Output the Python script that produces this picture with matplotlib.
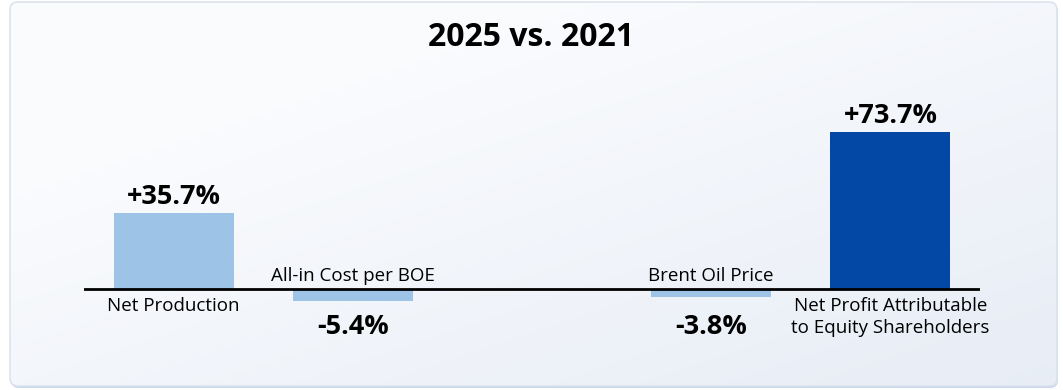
import matplotlib
matplotlib.use("Agg")
import matplotlib.pyplot as plt
import numpy as np
from matplotlib.patches import FancyBboxPatch

plt.rcParams['font.family'] = ['Open Sans', 'DejaVu Sans']

# 2025 vs. 2021 change, in percent
categories = ["Net Production", "All-in Cost per BOE", "Brent Oil Price",
              "Net Profit Attributable\nto Equity Shareholders"]
changes = [35.7, -5.4, -3.8, 73.7]
value_labels = ["+35.7%", "-5.4%", "-3.8%", "+73.7%"]
positions = [0, 1, 3, 4]
bar_colors = ["#9dc3e6", "#9dc3e6", "#9dc3e6", "#0448a6"]

W, H = 1063, 390
fig = plt.figure(figsize=(W / 100, H / 100), dpi=100)
fig.patch.set_facecolor("#ffffff")

# card background with a soft diagonal gradient
bg = fig.add_axes([0, 0, 1, 1], zorder=0)
bg.set_xlim(0, W)
bg.set_ylim(H, 0)
bg.axis("off")
shadow = FancyBboxPatch((11, 4), 1047, 384, boxstyle="round,pad=0,rounding_size=8",
                        facecolor="#c9d6ea", edgecolor="none", zorder=0.1)
bg.add_patch(shadow)
card = FancyBboxPatch((10, 2), 1047, 384, boxstyle="round,pad=0,rounding_size=8",
                      facecolor="none", edgecolor="#dde3ee", linewidth=1.2, zorder=2)
bg.add_patch(card)
gx, gy = np.meshgrid(np.linspace(0, 1, 200), np.linspace(0, 1, 80))
t = np.clip(0.55 * gx + 0.6 * gy - 0.25, 0, 1)
top = np.array([0.984, 0.988, 0.996])
bot = np.array([0.898, 0.922, 0.960])
grad = top[None, None, :] * (1 - t[..., None]) + bot[None, None, :] * t[..., None]
im = bg.imshow(grad, extent=(10, 1057, 386, 2), aspect="auto",
               interpolation="bilinear", zorder=1)
im.set_clip_path(card)

fig.text(0.5, 1 - 37 / H, "2025 vs. 2021", ha="center", va="center",
         fontsize=23, fontweight="bold", color="#000000")

# plotting area: baseline at y=289px, about 2.13 px per percentage point
ax = fig.add_axes([84 / W, 40 / H, (980 - 84) / W, 250 / H], zorder=1)
ax.patch.set_alpha(0)
ppu = 2.13
ax.set_xlim(-0.5, 4.5)
ax.set_ylim(-(350 - 289) / ppu, (289 - 100) / ppu)
ax.axis("off")

ax.bar(positions, changes, width=0.67, color=bar_colors, zorder=2)
ax.axhline(0, color="#000000", linewidth=2, zorder=3)

for x, v, lab, cat in zip(positions, changes, value_labels, categories):
    if v >= 0:
        ax.annotate(lab, (x, v), xytext=(0, 2), textcoords="offset points",
                    ha="center", va="bottom", fontsize=19.5, fontweight="bold")
        ax.annotate(cat, (x, 0), xytext=(0, -6), textcoords="offset points",
                    ha="center", va="top", fontsize=13.5, linespacing=1.25)
    else:
        ax.annotate(lab, (x, 0), xytext=(0, -27), textcoords="offset points",
                    ha="center", va="center", fontsize=19.5, fontweight="bold")
        ax.annotate(cat, (x, 0), xytext=(0, 3), textcoords="offset points",
                    ha="center", va="bottom", fontsize=13.5)

fig.savefig("out.png", dpi=100)
